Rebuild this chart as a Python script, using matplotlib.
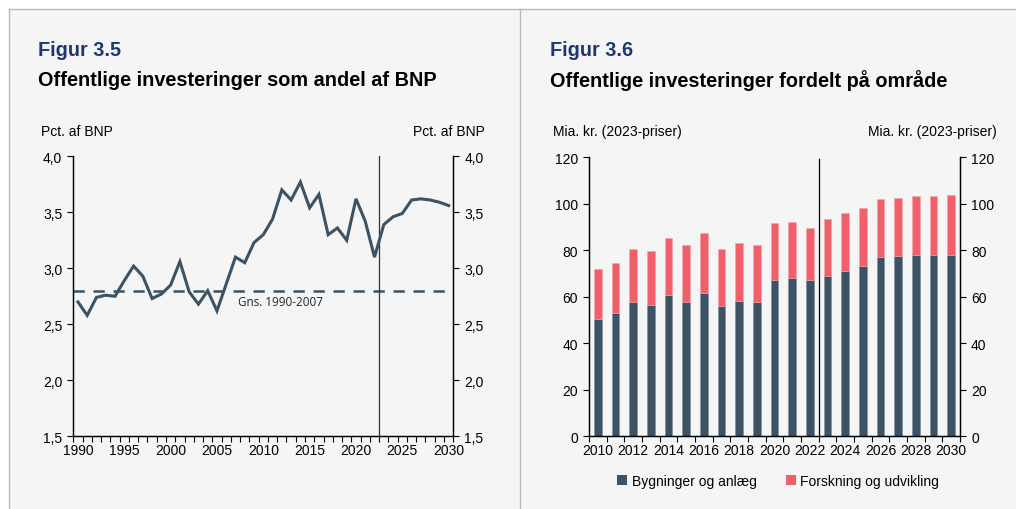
import matplotlib
matplotlib.use("Agg")
import matplotlib.pyplot as plt
from matplotlib.lines import Line2D
from matplotlib.patches import Patch
import numpy as np

# ---------------- data ----------------
years_line = list(range(1990, 2031))
share_bnp = [2.70, 2.58, 2.74, 2.76, 2.75, 2.89, 3.02, 2.93, 2.73, 2.77,
             2.85, 3.06, 2.79, 2.68, 2.80, 2.62, 2.86, 3.10, 3.05, 3.23,
             3.30, 3.44, 3.70, 3.61, 3.77, 3.54, 3.66, 3.30, 3.36, 3.25,
             3.62, 3.42, 3.10, 3.39, 3.46, 3.49, 3.61, 3.62, 3.61, 3.59,
             3.56]
avg_1990_2007 = 2.80
line_ticklabels = [1990, 1995, 2000, 2005, 2010, 2015, 2020, 2025, 2030]
line_yticks = [1.5, 2.0, 2.5, 3.0, 3.5, 4.0]

years_bar = list(range(2010, 2031))
bygninger = [50.5, 52.9, 57.9, 56.6, 60.8, 57.9, 61.6, 56.0, 58.3, 57.8,
             67.4, 68.2, 67.2, 68.9, 71.2, 73.4, 77.1, 77.4, 78.1, 78.1, 78.1]
total = [71.8, 74.7, 80.4, 79.8, 85.4, 82.4, 87.4, 80.7, 83.0, 82.3,
         91.9, 92.2, 89.7, 93.6, 96.0, 98.2, 101.9, 102.6, 103.4, 103.5, 103.6]
forskning = [t - b for t, b in zip(total, bygninger)]
bar_ticklabels = list(range(2010, 2031, 2))
bar_yticks = [0, 20, 40, 60, 80, 100, 120]

# ---------------- style ----------------
DARK = "#3b5364"
RED = "#f0606b"
NAVY = "#1f3870"
BG = "#f5f5f5"
FONT = "Liberation Sans"
plt.rcParams["font.family"] = [FONT, "DejaVu Sans"]
plt.rcParams["font.size"] = 10

fig = plt.figure(figsize=(10.16, 5.10), dpi=100)
fig.patch.set_facecolor("white")

W, H = 1016.0, 510.0
# panel background and borders
bg = plt.Rectangle((9 / W, 0), 1 - 9 / W, 1 - 10 / H, transform=fig.transFigure,
                   facecolor=BG, edgecolor="none", zorder=-10)
fig.patches.append(bg)
fig.add_artist(Line2D([9 / W, 1], [1 - 10 / H, 1 - 10 / H], transform=fig.transFigure,
                      color="#b8b8b8", lw=1))
fig.add_artist(Line2D([9 / W, 9 / W], [0, 1 - 10 / H], transform=fig.transFigure,
                      color="#b8b8b8", lw=1))
fig.add_artist(Line2D([520 / W, 520 / W], [0, 1 - 10 / H], transform=fig.transFigure,
                      color="#b8b8b8", lw=1))

# titles
TS = 14.3
fig.text(38 / W, 1 - 51 / H, "Figur 3.5", color=NAVY, fontsize=TS, fontweight="bold",
         va="center", ha="left")
fig.text(38 / W, 1 - 81 / H, "Offentlige investeringer som andel af BNP", color="black",
         fontsize=TS, fontweight="bold", va="center", ha="left")
fig.text(550 / W, 1 - 51 / H, "Figur 3.6", color=NAVY, fontsize=TS, fontweight="bold",
         va="center", ha="left")
fig.text(550 / W, 1 - 81 / H, "Offentlige investeringer fordelt på område", color="black",
         fontsize=TS, fontweight="bold", va="center", ha="left")

fig.text(41 / W, 1 - 132 / H, "Pct. af BNP", fontsize=10, va="center", ha="left")
fig.text(485 / W, 1 - 132 / H, "Pct. af BNP", fontsize=10, va="center", ha="right")
fig.text(553 / W, 1 - 132 / H, "Mia. kr. (2023-priser)", fontsize=10, va="center", ha="left")
fig.text(997 / W, 1 - 132 / H, "Mia. kr. (2023-priser)", fontsize=10, va="center", ha="right")


def fmt_comma(v):
    return f"{v:.1f}".replace(".", ",")


def style_axes(ax):
    ax.set_facecolor("none")
    ax.spines["top"].set_visible(False)
    for s in ["left", "right", "bottom"]:
        ax.spines[s].set_color("black")
        ax.spines[s].set_linewidth(0.9)


# ---------------- left chart ----------------
ax1 = fig.add_axes([73.3 / W, (H - 437.3) / H, 380 / W, 280 / H])
style_axes(ax1)
ax1.plot(years_line, share_bnp, color=DARK, lw=2.2, zorder=3, solid_joinstyle="miter")
ax1.axhline(avg_1990_2007, color=DARK, lw=1.8, dashes=(4.5, 3.5), zorder=2)
ax1.axvline(2022.5, color="#333333", lw=0.9, zorder=2)
ax1.text(2007.3, avg_1990_2007 - 0.04, "Gns. 1990-2007", fontsize=8.4,
         family=["Open Sans", "DejaVu Sans"], va="top", ha="left", color="#222222")
ax1.set_xlim(years_line[0] - 0.5, years_line[-1] + 0.5)
ax1.set_ylim(line_yticks[0], line_yticks[-1])
ax1.set_yticks(line_yticks)
ax1.set_yticklabels([fmt_comma(v) for v in line_yticks])
ax1.set_xticks(line_ticklabels)
ax1.set_xticklabels([str(v) for v in line_ticklabels])
ax1.set_xticks(np.arange(years_line[0] - 0.5, years_line[-1] + 1.0, 1.0), minor=True)
ax1.tick_params(axis="x", which="major", length=0, pad=5)
ax1.tick_params(axis="x", which="minor", length=4, width=0.8, direction="out")
ax1.tick_params(axis="y", length=4, width=0.8, direction="out", pad=4)
ax1r = ax1.twinx()
style_axes(ax1r)
ax1r.set_ylim(ax1.get_ylim())
ax1r.set_yticks(line_yticks)
ax1r.set_yticklabels([fmt_comma(v) for v in line_yticks])
ax1r.tick_params(axis="y", length=4, width=0.8, direction="out", pad=4)

# ---------------- right chart ----------------
ax2 = fig.add_axes([589 / W, (H - 437.3) / H, 371 / W, 279 / H])
style_axes(ax2)
bw = 0.42
ax2.bar(years_bar, bygninger, width=bw, color=DARK, edgecolor="#7d8f9c", linewidth=0.4,
        zorder=2, label="Bygninger og anlæg")
ax2.bar(years_bar, forskning, bottom=bygninger, width=bw, color=RED, edgecolor="#f7a3a8",
        linewidth=0.4, zorder=2, label="Forskning og udvikling")
ax2.axvline(2022.5, ymax=0.993, color="black", lw=0.9, zorder=3)
ax2.set_xlim(years_bar[0] - 0.5, years_bar[-1] + 0.5)
ax2.set_ylim(bar_yticks[0], bar_yticks[-1])
ax2.set_yticks(bar_yticks)
ax2.set_xticks(bar_ticklabels)
ax2.set_xticklabels([str(v) for v in bar_ticklabels])
ax2.set_xticks(np.arange(years_bar[0] - 0.5, years_bar[-1] + 1.0, 1.0), minor=True)
ax2.tick_params(axis="x", which="major", length=0, pad=5, labelsize=10)
ax2.tick_params(axis="x", which="minor", length=4, width=0.8, direction="out")
ax2.tick_params(axis="y", length=4, width=0.8, direction="out", pad=4)
ax2r = ax2.twinx()
style_axes(ax2r)
ax2r.set_ylim(ax2.get_ylim())
ax2r.set_yticks(bar_yticks)
ax2r.tick_params(axis="y", length=4, width=0.8, direction="out", pad=4)

handles = [Patch(facecolor=DARK, edgecolor="none", label="Bygninger og anlæg"),
           Patch(facecolor=RED, edgecolor="none", label="Forskning og udvikling")]
fig.legend(handles=handles, loc="center", bbox_to_anchor=(778 / W, 1 - 482 / H),
           ncol=2, frameon=False, fontsize=10, handlelength=0.75, handleheight=0.75,
           handletextpad=0.3, columnspacing=2.1)

fig.savefig("out.png", dpi=100, facecolor=fig.get_facecolor())
